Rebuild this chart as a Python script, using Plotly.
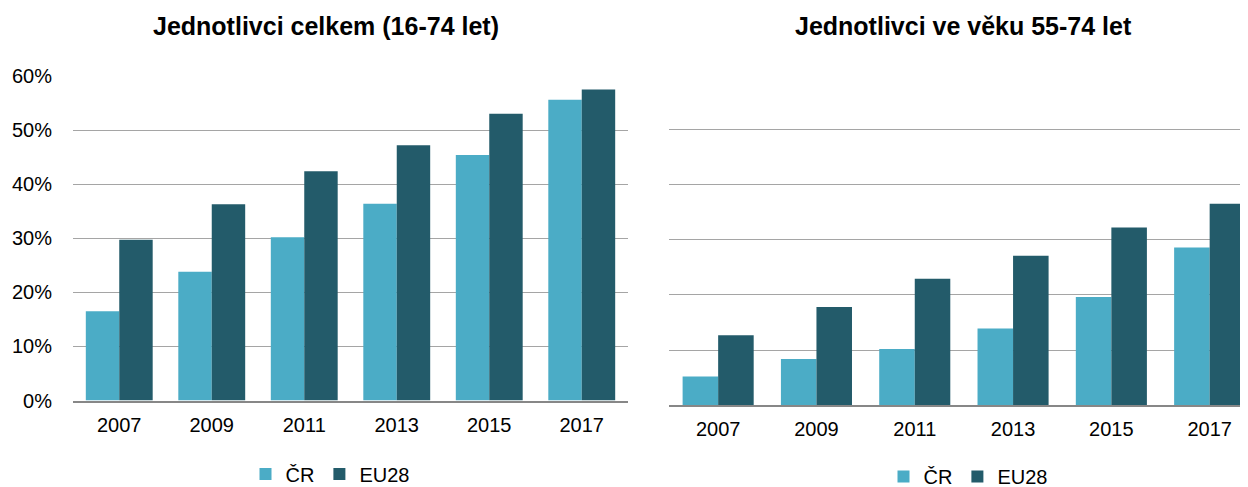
import plotly.graph_objects as go

years = ["2007", "2009", "2011", "2013", "2015", "2017"]
total_cr = [16.5, 23.8, 30.2, 36.4, 45.4, 55.6]
total_eu = [29.7, 36.3, 42.4, 47.2, 53.0, 57.5]
senior_cr = [5.2, 8.4, 10.2, 13.9, 19.6, 28.6]
senior_eu = [12.7, 17.8, 22.9, 27.1, 32.2, 36.5]
series_names = ["ČR", "EU28"]
titles = ["Jednotlivci celkem (16-74 let)", "Jednotlivci ve věku 55-74 let"]

C_CR = "#4BACC6"
C_EU = "#235B6A"
FONT = "Liberation Sans, Arial, sans-serif"
# The page body adds an 8px margin; figure is sized/positioned so that the
# visible 1248x487 window matches the reference.
OFF = 8
W, H = 1240, 510

def px_x(p):
    return (p - OFF) / W

def px_y(p):
    return (H - (p - OFF)) / H

fig = go.Figure()
fig.add_trace(go.Bar(x=years, y=total_cr, name=series_names[0], marker_color=C_CR,
                     xaxis="x", yaxis="y", legend="legend"))
fig.add_trace(go.Bar(x=years, y=total_eu, name=series_names[1], marker_color=C_EU,
                     xaxis="x", yaxis="y", legend="legend"))
fig.add_trace(go.Bar(x=years, y=senior_cr, name=series_names[0], marker_color=C_CR,
                     xaxis="x2", yaxis="y2", legend="legend2"))
fig.add_trace(go.Bar(x=years, y=senior_eu, name=series_names[1], marker_color=C_EU,
                     xaxis="x2", yaxis="y2", legend="legend2"))
fig.update_traces(marker_line_width=0, hoverinfo="skip")

axis_x = dict(type="category", showgrid=False, showline=True, linecolor="#878787",
              linewidth=2, ticks="outside", ticklen=5, tickcolor="rgba(0,0,0,0)",
              tickfont=dict(family=FONT, size=20, color="#000000"), fixedrange=True,
              automargin=False)
axis_y = dict(range=[0, 60], dtick=10, showgrid=True, gridcolor="#A5A5A5", gridwidth=1,
              zeroline=False, showline=False, fixedrange=True, automargin=False,
              ticks="outside", ticklen=16, tickcolor="rgba(0,0,0,0)",
              tickfont=dict(family=FONT, size=20, color="#000000"))

fig.update_layout(
    width=W, height=H,
    margin=dict(l=0, r=0, t=0, b=0, autoexpand=False),
    paper_bgcolor="white", plot_bgcolor="white",
    barmode="group", bargap=0.277, bargroupgap=0,
    font=dict(family=FONT, color="#000000"),
    xaxis=dict(axis_x, domain=[px_x(73), px_x(628)], anchor="y", range=[-0.5, 5.5]),
    yaxis=dict(axis_y, domain=[px_y(400.5), px_y(76)], anchor="x", ticksuffix="%"),
    xaxis2=dict(axis_x, domain=[px_x(669), 1.0], anchor="y2", range=[-0.5, 5.39]),
    yaxis2=dict(axis_y, domain=[px_y(405.3), px_y(74)], anchor="x2", showticklabels=False),
    legend=dict(orientation="h", x=px_x(330), xanchor="center", y=px_y(474), yanchor="middle",
                font=dict(family=FONT, size=20), itemwidth=30, bgcolor="rgba(0,0,0,0)"),
    legend2=dict(orientation="h", x=px_x(968), xanchor="center", y=px_y(476.5), yanchor="middle",
                 font=dict(family=FONT, size=20), itemwidth=30, bgcolor="rgba(0,0,0,0)"),
    annotations=[
        dict(text="<b>" + titles[0] + "</b>", x=px_x(325.7), y=px_y(26.5), xref="paper", yref="paper",
             xanchor="center", yanchor="middle", showarrow=False,
             font=dict(family=FONT, size=25, color="#000000")),
        dict(text="<b>" + titles[1] + "</b>", x=px_x(963), y=px_y(26.5), xref="paper", yref="paper",
             xanchor="center", yanchor="middle", showarrow=False,
             font=dict(family=FONT, size=25, color="#000000")),
    ],
)

fig.write_html("out.html")
